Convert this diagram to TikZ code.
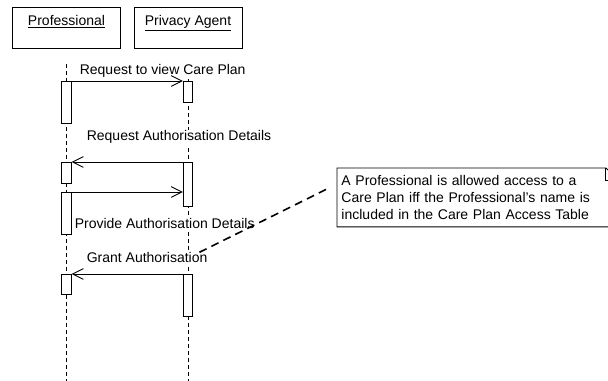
\documentclass[tikz,border=0pt]{standalone}
\usepackage{fontspec}
\setmainfont{Liberation Sans}
\usetikzlibrary{arrows.meta}
\tikzset{>={Straight Barb[length=8pt,width=8pt]},
  actor/.style={draw,minimum width=81pt,minimum height=30.75pt,anchor=north,inner sep=0pt},
  act/.style={draw,fill=white,minimum width=7pt,inner sep=0pt,anchor=north},
  life/.style={dash pattern=on 3pt off 2.25pt},
  msglbl/.style={fill=white,inner sep=1pt,anchor=base west},
  link/.style={line width=1.2pt,dash pattern=on 6pt off 4pt}}

\begin{document}
\begin{tikzpicture}[x=0.75pt,y=-0.75pt,line width=0.7pt,font=\fontsize{10.5}{12.4}\selectfont]
  \clip (0,0) rectangle (608,381);
  \node [actor,label={[anchor=north,inner sep=0pt,yshift=-6pt]north:\underline{Professional}}] (prof) at (66.5,7) {};
  \node [actor,label={[anchor=north,inner sep=0pt,yshift=-6pt]north:\underline{Privacy Agent}}] (agent) at (188,7) {};
  \draw [life] ([yshift=-11.25pt]prof.south) -- (prof.south |- 0,381);
  \draw [life] ([yshift=-11.25pt]agent.south) -- (agent.south |- 0,381);
  \node [msglbl] (ask) at (78,75) {Request to view Care Plan};
  \node [msglbl] (askauth) at (85,141) {Request Authorisation Details};
  \node [msglbl] (give) at (73,229) {Provide Authorisation Details};
  \node [msglbl] (grant) at (85,263) {Grant Authorisation};
  \node [act,minimum height=31.5pt] (pa1) at (66.5,81) {};
  \node [act,minimum height=15.75pt] (aa1) at (188,81) {};
  \node [act,minimum height=15.75pt] (pa2) at (66.5,162) {};
  \node [act,minimum height=33pt] (aa2) at (188,162) {};
  \node [act,minimum height=31.5pt] (pa3) at (66.5,192) {};
  \node [act,minimum height=15pt] (pa4) at (66.5,274) {};
  \node [act,minimum height=31.5pt] (aa4) at (188,274) {};
  \draw [->] (pa1.north east) -- (aa1.north west);
  \draw [->] (aa2.north west) -- (pa2.north east);
  \draw [->] (pa3.north east) -- (pa3.north east -| aa2.west);
  \draw [->] (aa4.north west) -- (pa4.north east);
  \node [anchor=north west,minimum height=43.5pt,text width=204pt,inner xsep=3pt,inner ysep=0pt,align=left] (note) at (337,168)
    {A Professional is allowed access to a\\Care Plan iff the Professional's name is\\included in the Care Plan Access Table};
  \draw (note.north west) -- ([xshift=-9pt]note.north east) -- ([yshift=-9pt]note.north east) -- (note.south east) -- (note.south west) -- cycle;
  \draw ([xshift=-9pt]note.north east) |- ([yshift=-9pt]note.north east);
  \coordinate (tip) at (198,253);
  \draw [link] ([xshift=-8.25pt,yshift=6pt]note.west) -- (tip);
\end{tikzpicture}
\end{document}
